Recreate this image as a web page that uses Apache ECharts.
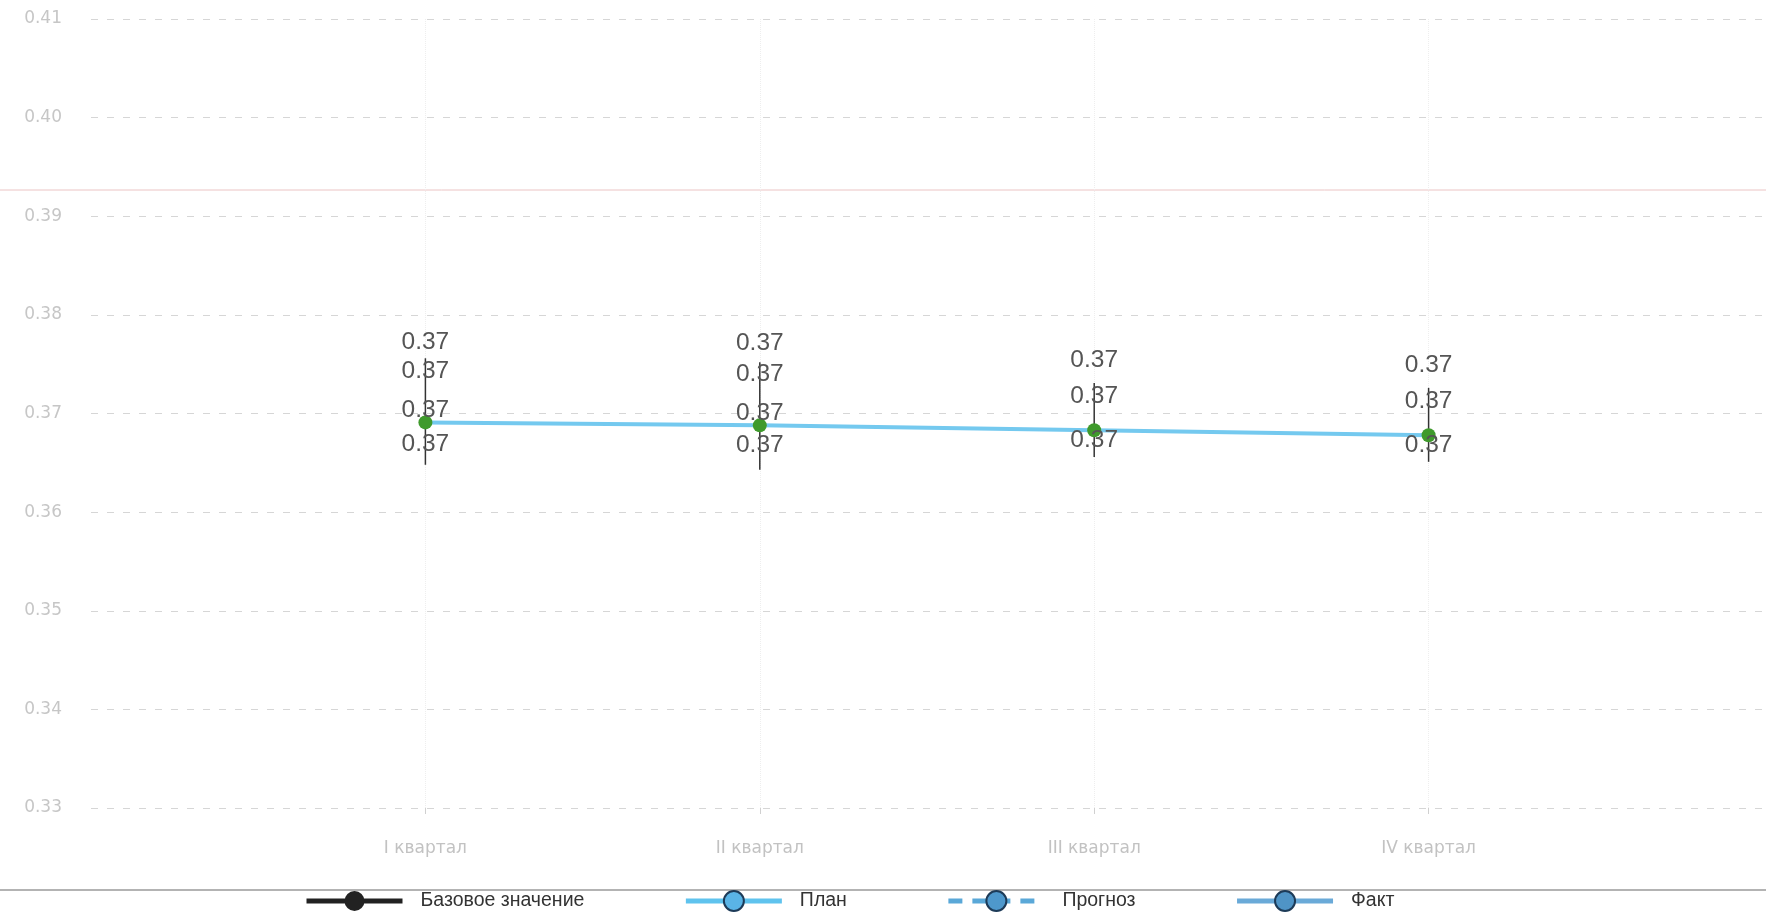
<!DOCTYPE html>
<html>
<head>
<meta charset="utf-8">
<script src="https://cdn.jsdelivr.net/npm/echarts@6/dist/echarts.min.js"></script>
<style>
  html, body { margin: 0; padding: 0; background: #fff; }
  #chart { width: 1766px; height: 921px; }
</style>
</head>
<body>
<div id="chart"></div>
<script>
// categories (empty ones at both ends keep the quarters away from the edges)
const categories = ['', 'I квартал', 'II квартал', 'III квартал', 'IV квартал', '']
// values (all labels print as 0.37)
const baseValues = [null, 0.3749, 0.3748, 0.3731, 0.3726, null]
const forecastValues = [null, 0.3722, 0.3718, 0.3696, 0.3691, null]
const planValues = [null, 0.3691, 0.3688, 0.3683, 0.3678, null]
const factValues = [null, 0.3652, 0.3651, 0.3656, 0.3651, null]
const planLabelShown = [false, true, true, false, false, false]
// vertical range bars
const rangeHigh = [null, 0.3756, 0.3752, 0.3731, 0.3726, null]
const rangeLow = [null, 0.3648, 0.3643, 0.3656, 0.3651, null]
const yMin = 0.33
const yMax = 0.41
const yStep = 0.01

const fmt = p => (p.value == null ? '' : Number(p.value).toFixed(2))

// [category index, low, high]
const rangeData = []
categories.forEach((c, i) => {
  if (rangeHigh[i] != null) rangeData.push([i, rangeLow[i], rangeHigh[i]])
})

const labelStyle = {
  show: true,
  position: 'top',
  distance: 9,
  color: '#555',
  fontSize: 24.5,
  fontFamily: 'Liberation Sans, Arial, sans-serif',
  formatter: fmt
}

const hiddenSeries = (name, data, distance) => ({
  name,
  type: 'line',
  data,
  symbol: 'circle',
  symbolSize: 1,
  itemStyle: { color: 'rgba(0,0,0,0)' },
  lineStyle: { color: 'rgba(0,0,0,0)', width: 0 },
  label: Object.assign({}, labelStyle, { distance }),
  z: 4
})

let chart = echarts.init(document.getElementById('chart'))
chart.setOption({
  animation: false,
  backgroundColor: '#fff',
  grid: { left: 91, right: -13, top: 19, bottom: 113 },
  graphic: [
    { type: 'line', shape: { x1: 0, y1: 190, x2: 1766, y2: 190 }, style: { stroke: '#ebc4c4', lineWidth: 1 } },
    { type: 'line', shape: { x1: 0, y1: 890, x2: 1766, y2: 890 }, style: { stroke: '#9a9a9a', lineWidth: 1.5 } }
  ],
  legend: {
    left: 299,
    top: 885,
    itemWidth: 96,
    itemHeight: 25,
    itemGap: 99,
    textStyle: { fontSize: 19.5, color: '#333', padding: [4, 0, 0, 13], fontFamily: 'Liberation Sans, Arial, sans-serif' },
    data: [
      {
        name: 'Базовое значение',
        itemStyle: { color: '#222', borderWidth: 0, opacity: 1 },
        lineStyle: { color: '#222', width: 5, type: 'solid', opacity: 1 }
      },
      {
        name: 'План',
        itemStyle: { color: '#5ab4e6', borderColor: '#1d3b58', borderWidth: 2, opacity: 1 },
        lineStyle: { color: '#5fc3ee', width: 5, type: 'solid', opacity: 1 }
      },
      {
        name: 'Прогноз',
        itemStyle: { color: '#4e98cc', borderColor: '#1d3b58', borderWidth: 2, opacity: 1 },
        lineStyle: { color: '#5aa8d8', width: 5, type: [14, 10], opacity: 1 }
      },
      {
        name: 'Факт',
        itemStyle: { color: '#4f94c6', borderColor: '#1d3b58', borderWidth: 2, opacity: 1 },
        lineStyle: { color: '#6aaad8', width: 5, type: 'solid', opacity: 1 }
      }
    ]
  },
  xAxis: {
    type: 'category',
    boundaryGap: false,
    data: categories,
    axisLine: { show: false },
    axisTick: {
      show: true,
      length: 6,
      interval: (i) => i >= 1 && i <= 4,
      lineStyle: { color: '#d0d0d0' }
    },
    splitLine: {
      show: true,
      interval: (i) => i >= 1 && i <= 4,
      lineStyle: { color: '#eeeeee', type: 'dotted' }
    },
    axisLabel: {
      margin: 32,
      color: '#c2c2c2',
      fontSize: 17,
      fontFamily: 'DejaVu Sans, sans-serif',
      interval: 0
    }
  },
  yAxis: {
    type: 'value',
    min: yMin,
    max: yMax,
    interval: yStep,
    axisLine: { show: false },
    axisTick: { show: false },
    axisLabel: {
      margin: 29,
      color: '#c6c6c6',
      fontSize: 17,
      fontFamily: 'DejaVu Sans, sans-serif',
      formatter: v => v.toFixed(2)
    },
    splitLine: {
      lineStyle: { color: '#d6d6d6', type: [7, 9] }
    }
  },
  series: [
    {
      name: 'range',
      type: 'custom',
      data: rangeData,
      encode: { x: 0, y: [1, 2] },
      z: 2,
      renderItem: function (params, api) {
        const top = api.coord([api.value(0), api.value(2)])
        const bottom = api.coord([api.value(0), api.value(1)])
        return {
          type: 'line',
          shape: { x1: top[0], y1: top[1], x2: bottom[0], y2: bottom[1] },
          style: { stroke: '#333', lineWidth: 1.5 }
        }
      }
    },
    hiddenSeries('Базовое значение', baseValues, 10),
    hiddenSeries('Прогноз', forecastValues, 8),
    {
      name: 'План',
      type: 'line',
      data: planValues.map((v, i) => ({ value: v, label: { show: planLabelShown[i] } })),
      symbol: 'circle',
      symbolSize: 14,
      itemStyle: { color: '#3f9a2c' },
      lineStyle: { color: '#74c9ef', width: 4 },
      label: Object.assign({}, labelStyle, { distance: -7 }),
      z: 3
    },
    hiddenSeries('Факт', factValues, 4)
  ]
})
</script>
</body>
</html>
